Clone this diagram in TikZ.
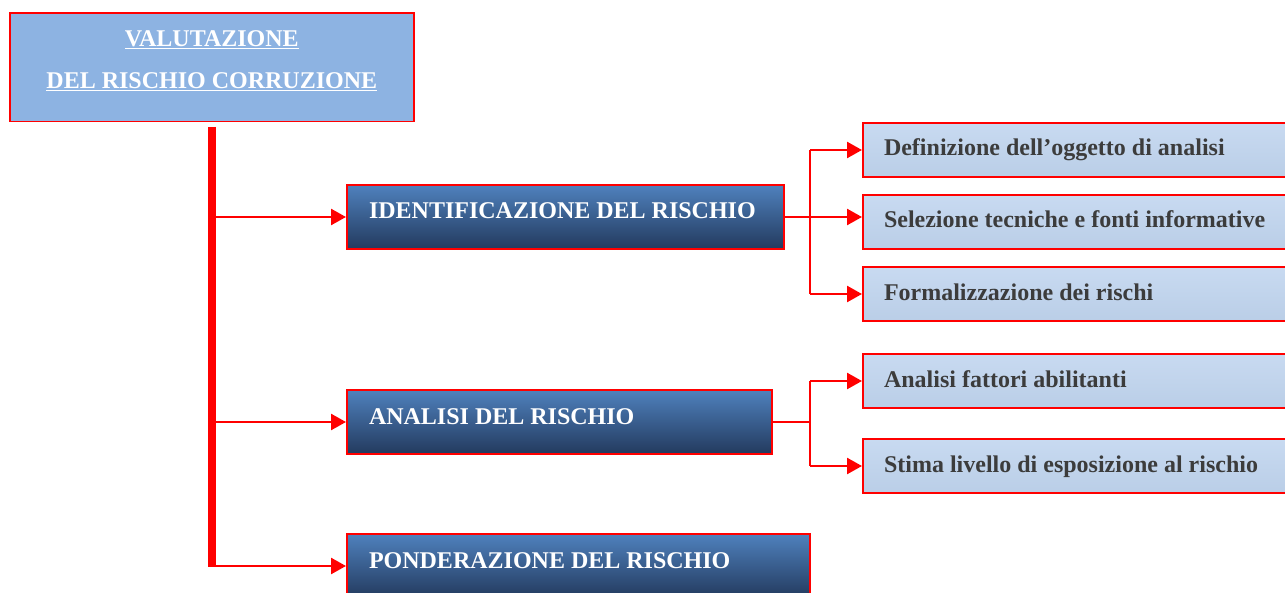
\documentclass[tikz,border=0pt]{standalone}
\usepackage{fontspec}
\setmainfont{Liberation Serif}
\definecolor{riskred}{RGB}{255,0,0}
\definecolor{titleblue}{RGB}{141,179,226}
\definecolor{stepblue}{RGB}{79,129,189}
\definecolor{stepnavy}{RGB}{35,58,94}
\definecolor{palesky}{RGB}{200,218,241}
\definecolor{palesteel}{RGB}{186,206,231}
\definecolor{inkgray}{RGB}{60,60,60}
\usetikzlibrary{arrows.meta}

\tikzset{
  titlebox/.style={draw=riskred, line width=1.6bp, fill=titleblue, text=white,
    anchor=north west, minimum width=404bp, inner ysep=17.5bp, align=center,
    font=\fontsize{24bp}{42bp}\selectfont\bfseries},
  mainbox/.style={draw=riskred, line width=2bp, top color=stepblue, bottom color=stepnavy,
    text=white, anchor=north west, inner xsep=22bp, inner ysep=2bp,
    text height=32bp, text depth=28bp, align=flush left,
    font=\fontsize{24bp}{28bp}\selectfont\bfseries},
  subbox/.style={draw=riskred, line width=2bp, top color=palesky, bottom color=palesteel,
    text=inkgray, anchor=north west, inner xsep=21bp, inner ysep=2bp,
    text width=386bp, text height=31bp, text depth=19bp, align=flush left,
    font=\fontsize{24bp}{28bp}\selectfont\bfseries},
  link/.style={riskred, line width=2.5bp},
  linkarrow/.style={link, -{Triangle[length=15bp,width=16bp]}},
  trunk/.style={riskred, line width=7.5bp}
}

\begin{document}
\begin{tikzpicture}[x=1bp, y=-1bp]
  \useasboundingbox (0,0) rectangle (1285,593);

  % title
  \node[titlebox] (title) at (9,12)
    {\underline{VALUTAZIONE}\\\underline{DEL RISCHIO CORRUZIONE}\rule[-16bp]{0pt}{16bp}};

  % phases
  \node[mainbox, text width=393bp] (ident) at (346,184) {IDENTIFICAZIONE DEL RISCHIO};
  \node[mainbox, text width=381bp] (analisi) at (346,389) {ANALISI DEL RISCHIO};
  \node[mainbox, text width=419bp] (ponder) at (346,533) {PONDERAZIONE DEL RISCHIO};

  % steps
  \node[subbox] (oggetto) at (862,122) {Definizione dell’oggetto di analisi};
  \node[subbox] (fonti) at (862,194) {Selezione tecniche e fonti informative};
  \node[subbox] (formal) at (862,266) {Formalizzazione dei rischi};
  \node[subbox] (fattori) at (862,353) {Analisi fattori abilitanti};
  \node[subbox] (stima) at (862,438) {Stima livello di esposizione al rischio};

  % spine
  \coordinate (spine) at (212,127);
  \coordinate (spinebot) at (212,567);
  \draw[trunk] (spine) -- (spinebot);
  \draw[linkarrow] (spine |- ident.west) -- (ident.west);
  \draw[linkarrow] (spine |- analisi.west) -- (analisi.west);
  \draw[linkarrow] (spine |- ponder.west) -- (ponder.west);

  % forks
  \coordinate (forkA) at (810,0);
  \coordinate (forkB) at (810,0);
  \draw[link] (forkA |- oggetto.west) -- (forkA |- formal.west);
  \draw[linkarrow] (forkA |- oggetto.west) -- (oggetto.west);
  \draw[linkarrow] (forkA |- formal.west) -- (formal.west);
  \draw[linkarrow] (ident.east) -- (ident.east -| fonti.west);

  \draw[link] (analisi.east) -- (forkB |- analisi.east);
  \draw[link] (forkB |- fattori.west) -- (forkB |- stima.west);
  \draw[linkarrow] (forkB |- fattori.west) -- (fattori.west);
  \draw[linkarrow] (forkB |- stima.west) -- (stima.west);
\end{tikzpicture}
\end{document}
